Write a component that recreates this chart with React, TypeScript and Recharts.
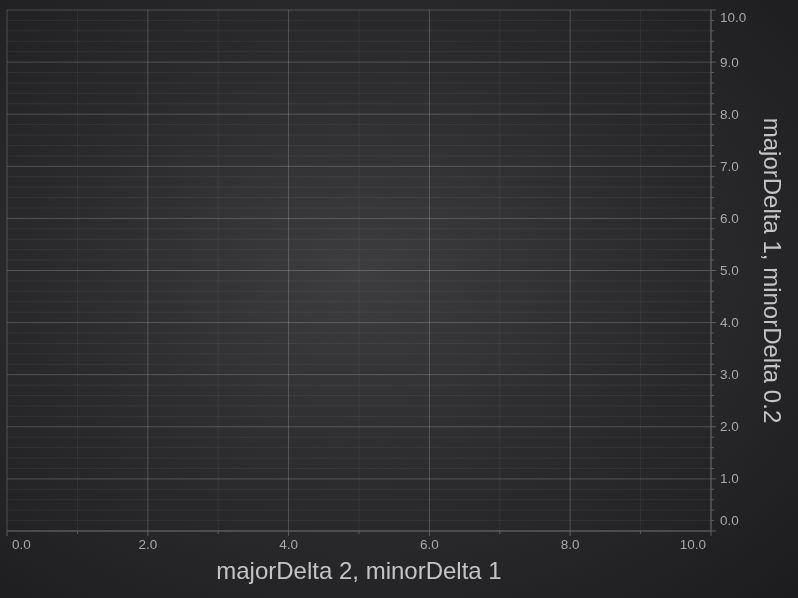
import React from 'react';
import { ComposedChart, XAxis, YAxis, ReferenceLine } from 'recharts';

const xMajor = [0, 2, 4, 6, 8, 10];
const xMinor = [1, 3, 5, 7, 9];
const yMajor = [0, 1, 2, 3, 4, 5, 6, 7, 8, 9, 10];
const yMinor = [
  0.2, 0.4, 0.6, 0.8, 1.2, 1.4, 1.6, 1.8, 2.2, 2.4, 2.6, 2.8, 3.2, 3.4, 3.6, 3.8,
  4.2, 4.4, 4.6, 4.8, 5.2, 5.4, 5.6, 5.8, 6.2, 6.4, 6.6, 6.8, 7.2, 7.4, 7.6, 7.8,
  8.2, 8.4, 8.6, 8.8, 9.2, 9.4, 9.6, 9.8,
];
const xTitle = 'majorDelta 2, minorDelta 1';
const yTitle = 'majorDelta 1, minorDelta 0.2';

const points = [
  { x: 0, y: 0 },
  { x: 10, y: 10 },
];

const FONT = 'Arial, "Liberation Sans", sans-serif';
const TICK_COLOR = '#a8a8a8';
const TITLE_COLOR = '#c4c4c4';
const AXIS_COLOR = '#5f5f5f';
const MAJOR_GRID = 'rgba(255,255,255,0.2)';
const MINOR_GRID = 'rgba(255,255,255,0.06)';

const xTicks = [...xMajor, ...xMinor].sort((a, b) => a - b);
const yTicks = [...yMajor, ...yMinor].sort((a, b) => a - b);

function XTick(props: any) {
  const { x, y, payload } = props;
  const v = payload.value;
  const major = xMajor.includes(v);
  let anchor: 'start' | 'middle' | 'end' = 'middle';
  let tx = x;
  if (v === 0) { anchor = 'start'; tx = x + 5; }
  if (v === 10) { anchor = 'end'; tx = x - 5; }
  return (
    <g>
      <line x1={x} x2={x} y1={y} y2={y + (major ? 5 : 3)} stroke={AXIS_COLOR} />
      {major && (
        <text x={tx} y={y + 18} textAnchor={anchor} fill={TICK_COLOR} fontSize={13.5} fontFamily={FONT}>
          {v.toFixed(1)}
        </text>
      )}
    </g>
  );
}

function YTick(props: any) {
  const { x, y, payload } = props;
  const v = payload.value;
  const major = yMajor.includes(v);
  let dy = 4.5;
  if (v === 0) dy = -6;
  if (v === 10) dy = 11.5;
  return (
    <g>
      <line x1={x} x2={x + (major ? 5 : 3)} y1={y} y2={y} stroke={AXIS_COLOR} />
      {major && (
        <text x={x + 9} y={y + dy} textAnchor="start" fill={TICK_COLOR} fontSize={13.5} fontFamily={FONT}>
          {v.toFixed(1)}
        </text>
      )}
    </g>
  );
}

export default function App() {
  return (
    <div
      style={{
        position: 'fixed',
        left: 0,
        top: 0,
        width: 798,
        height: 598,
        background: 'radial-gradient(ellipse at 45% 46%, #3d3d3f 0%, #2c2c2e 45%, #1c1c1e 100%)',
      }}
    >
      <ComposedChart width={798} height={598} data={points} margin={{ top: 10, right: 0, bottom: 0, left: 7 }}>
        <XAxis
          type="number"
          dataKey="x"
          domain={[0, 10]}
          ticks={xTicks}
          interval={0}
          height={67}
          tickSize={0}
          tickMargin={0}
          tickLine={false}
          axisLine={{ stroke: AXIS_COLOR }}
          tick={<XTick />}
          label={{
            content: (p: any) => {
              const vb = p.viewBox;
              return (
                <text x={vb.x + vb.width / 2} y={vb.y + 39} textAnchor="middle" dominantBaseline="central"
                  fill={TITLE_COLOR} fontSize={24} fontFamily={FONT}>
                  {xTitle}
                </text>
              );
            },
          }}
        />
        <YAxis
          type="number"
          dataKey="y"
          orientation="right"
          domain={[0, 10]}
          ticks={yTicks}
          interval={0}
          width={87}
          tickSize={0}
          tickMargin={0}
          tickLine={false}
          axisLine={{ stroke: AXIS_COLOR }}
          tick={<YTick />}
          label={{
            content: (p: any) => {
              const vb = p.viewBox;
              const cx = vb.x + 61;
              const cy = vb.y + vb.height / 2;
              return (
                <text x={cx} y={cy} textAnchor="middle" dominantBaseline="central"
                  transform={`rotate(90, ${cx}, ${cy})`}
                  fill={TITLE_COLOR} fontSize={24} fontFamily={FONT}>
                  {yTitle}
                </text>
              );
            },
          }}
        />
        {yMinor.map((v) => (
          <ReferenceLine key={'ym' + v} y={v} stroke={MINOR_GRID} />
        ))}
        {xMinor.map((v) => (
          <ReferenceLine key={'xm' + v} x={v} stroke={MINOR_GRID} />
        ))}
        {yMajor.map((v) => (
          <ReferenceLine key={'yM' + v} y={v} stroke={MAJOR_GRID} />
        ))}
        {xMajor.map((v) => (
          <ReferenceLine key={'xM' + v} x={v} stroke={MAJOR_GRID} />
        ))}
      </ComposedChart>
    </div>
  );
}
